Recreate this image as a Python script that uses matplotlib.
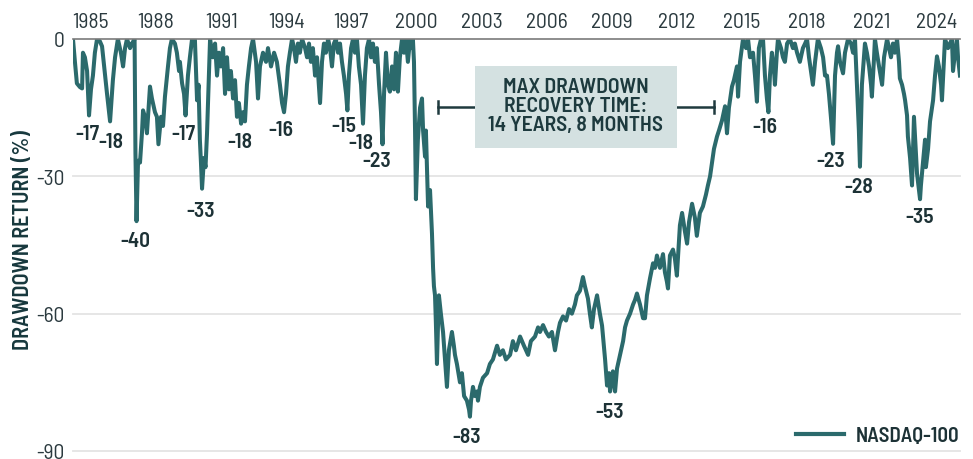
import matplotlib.pyplot as plt
from matplotlib.patches import Rectangle

plt.rcParams['font.family'] = ['Barlow Semi Condensed', 'DejaVu Sans']
plt.rcParams['axes.unicode_minus'] = False

# --- data (decimal year, drawdown %) ---
years = [
    1984.17, 1984.26, 1984.35, 1984.49, 1984.59, 1984.63, 1984.72, 1984.82, 1984.91, 1985.00,
    1985.09, 1985.18, 1985.28, 1985.41, 1985.51, 1985.65, 1985.74, 1985.88, 1986.01, 1986.11,
    1986.24, 1986.38, 1986.48, 1986.57, 1986.66, 1986.80, 1986.89, 1987.01, 1987.05, 1987.10,
    1987.17, 1987.26, 1987.35, 1987.40, 1987.49, 1987.58, 1987.67, 1987.72, 1987.81, 1987.95,
    1988.04, 1988.11, 1988.23, 1988.32, 1988.41, 1988.55, 1988.64, 1988.73, 1988.87, 1988.96,
    1989.06, 1989.10, 1989.20, 1989.29, 1989.36, 1989.43, 1989.47, 1989.56, 1989.66, 1989.79,
    1989.89, 1989.96, 1990.02, 1990.07, 1990.12, 1990.21, 1990.28, 1990.35, 1990.42, 1990.49,
    1990.62, 1990.72, 1990.81, 1990.90, 1990.99, 1991.09, 1991.18, 1991.27, 1991.36, 1991.45,
    1991.55, 1991.64, 1991.73, 1991.82, 1991.92, 1992.01, 1992.10, 1992.19, 1992.28, 1992.38,
    1992.47, 1992.61, 1992.70, 1992.79, 1992.93, 1993.07, 1993.16, 1993.30, 1993.44, 1993.57,
    1993.71, 1993.81, 1993.90, 1993.99, 1994.08, 1994.17, 1994.27, 1994.36, 1994.45, 1994.54,
    1994.63, 1994.73, 1994.87, 1994.96, 1995.05, 1995.14, 1995.23, 1995.33, 1995.42, 1995.56,
    1995.65, 1995.74, 1995.83, 1995.93, 1996.02, 1996.11, 1996.20, 1996.29, 1996.39, 1996.48,
    1996.57, 1996.66, 1996.76, 1996.82, 1996.89, 1996.99, 1997.08, 1997.17, 1997.26, 1997.35,
    1997.45, 1997.54, 1997.63, 1997.72, 1997.82, 1997.91, 1998.00, 1998.09, 1998.18, 1998.28,
    1998.37, 1998.44, 1998.51, 1998.60, 1998.69, 1998.78, 1998.88, 1998.97, 1999.06, 1999.15,
    1999.24, 1999.34, 1999.43, 1999.52, 1999.61, 1999.71, 1999.80, 1999.84, 1999.89, 1999.94,
    1999.98, 2000.07, 2000.17, 2000.26, 2000.31, 2000.40, 2000.44, 2000.54, 2000.63, 2000.72,
    2000.77, 2000.81, 2000.86, 2000.90, 2000.95, 2001.00, 2001.04, 2001.13, 2001.23, 2001.32,
    2001.41, 2001.50, 2001.64, 2001.73, 2001.78, 2001.87, 2002.01, 2002.10, 2002.20, 2002.33,
    2002.43, 2002.47, 2002.52, 2002.61, 2002.70, 2002.79, 2002.84, 2002.93, 2003.07, 2003.26,
    2003.39, 2003.53, 2003.72, 2003.85, 2003.99, 2004.13, 2004.32, 2004.45, 2004.59, 2004.78,
    2004.96, 2005.15, 2005.28, 2005.47, 2005.61, 2005.70, 2005.84, 2005.98, 2006.11, 2006.25,
    2006.39, 2006.53, 2006.62, 2006.76, 2006.90, 2007.04, 2007.17, 2007.31, 2007.40, 2007.54,
    2007.68, 2007.77, 2007.91, 2008.00, 2008.09, 2008.19, 2008.33, 2008.46, 2008.56, 2008.70,
    2008.79, 2008.88, 2008.93, 2009.02, 2009.06, 2009.16, 2009.25, 2009.39, 2009.53, 2009.62,
    2009.71, 2009.85, 2009.99, 2010.08, 2010.17, 2010.31, 2010.45, 2010.54, 2010.63, 2010.77,
    2010.91, 2011.00, 2011.09, 2011.23, 2011.37, 2011.46, 2011.55, 2011.60, 2011.69, 2011.83,
    2011.92, 2012.01, 2012.11, 2012.15, 2012.25, 2012.38, 2012.48, 2012.57, 2012.71, 2012.84,
    2012.93, 2013.07, 2013.21, 2013.35, 2013.44, 2013.54, 2013.63, 2013.72, 2013.86, 2013.95,
    2014.09, 2014.23, 2014.32, 2014.41, 2014.55, 2014.64, 2014.78, 2014.83, 2014.92, 2015.06,
    2015.20, 2015.29, 2015.38, 2015.52, 2015.61, 2015.70, 2015.79, 2015.89, 2015.98, 2016.07,
    2016.16, 2016.23, 2016.30, 2016.39, 2016.49, 2016.53, 2016.62, 2016.67, 2016.81, 2016.90,
    2016.99, 2017.09, 2017.22, 2017.36, 2017.45, 2017.55, 2017.68, 2017.82, 2017.92, 2018.01,
    2018.10, 2018.19, 2018.28, 2018.38, 2018.51, 2018.65, 2018.75, 2018.84, 2018.93, 2019.02,
    2019.11, 2019.21, 2019.30, 2019.39, 2019.44, 2019.53, 2019.67, 2019.76, 2019.90, 2020.04,
    2020.13, 2020.22, 2020.31, 2020.40, 2020.45, 2020.54, 2020.68, 2020.77, 2020.87, 2020.96,
    2021.00, 2021.10, 2021.14, 2021.23, 2021.33, 2021.47, 2021.56, 2021.70, 2021.79, 2021.88,
    2021.97, 2022.06, 2022.16, 2022.25, 2022.29, 2022.39, 2022.48, 2022.53, 2022.62, 2022.66,
    2022.76, 2022.85, 2022.94, 2023.03, 2023.08, 2023.17, 2023.22, 2023.26, 2023.36, 2023.45,
    2023.49, 2023.59, 2023.68, 2023.82, 2023.91, 2024.00, 2024.09, 2024.19, 2024.23, 2024.32,
    2024.37, 2024.51, 2024.60, 2024.69, 2024.74, 2024.83, 2024.92, 2024.97, 2025.06,
]
drawdown = [
    0, -5, -9.7, -10.5, -10.8, -3, -4, -7, -16.7, -11,
    -8, -3, 0, -0.5, -1.6, -8, -12, -18, -9, -4,
    0, -3, -6, -2, 0, -2, -1, 0, -25, -39.8,
    -26.6, -27, -20.6, -15.6, -17, -20.6, -14, -10.4, -13, -16,
    -17, -23, -17, -19, -12.6, -6, -2, 0, -1, -3,
    -7, -5, -9.7, -12, -16.7, -11, -8, -4, 0, 0,
    -13.4, -10, -22, -27, -32.7, -26, -28, -20.6, -10, 0,
    -4, -1, -8, -3, -6, -2, -12, -4, -11, -7,
    -13, -9, -17, -14, -18.5, -16, -18, -10, -6, -2,
    0, -5, -13, -6, -3, -5, -2, -6, -3, -5,
    -10, -14, -16, -12, -6, -3, 0, -2, -5, -1,
    -3, 0, -2, -4, -1, -5, -2, -8, -4, -14,
    -5, -1, -3, 0, -2, -6, -1, 0, -3, -1,
    -5, -8, -12, -15.6, -8, -2, 0, -3, 0, -6,
    -10, -18.5, -8, -2, 0, -4, -1, -5, -2, -10,
    -16, -23, -12, -3, -10, -11.5, -6, -11, -3, -11.5,
    -4, 0, -3, 0, -5, 0, -2, 0, -5, -20,
    -35, -22, -15, -13, -20, -25.7, -20, -36.6, -33, -42.5,
    -50, -54, -56, -62, -71, -62, -56, -60, -64, -70,
    -76, -68, -64, -67, -69, -71, -75, -73, -78, -79,
    -81, -82.5, -79, -76, -78, -77, -79, -76, -74, -73,
    -71, -70, -67, -69, -68, -70, -69, -66, -68, -65,
    -67, -69, -66, -65, -63, -64, -62.5, -64, -65, -64,
    -68, -64, -62, -60.6, -61.5, -59, -60, -58, -56, -55,
    -52, -54, -56.7, -60, -63, -59, -56, -60, -62.6, -70,
    -75.7, -73, -77, -74, -72.6, -77, -72, -69, -66, -63,
    -61.5, -60, -58, -57, -55.6, -58, -61, -61, -56, -52.3,
    -49, -50, -47.3, -50, -47, -51, -53, -54.5, -47.3, -46,
    -48, -51.7, -44, -40.7, -38, -42, -44.7, -40, -36, -39,
    -43, -38, -36.6, -34, -32, -30, -27, -24, -21.3, -20,
    -17.8, -14.7, -20.6, -15, -10.4, -9, -6, -12.6, -5, 0,
    -2, 0, -4, -3, -8, -13.7, -2, 0, 0, -8,
    -13, -16, -8, -3, -7, -10, -3, 0, -2, -4,
    -5, -1, 0, -2, -1, -3, -5, -2, -1, 0,
    -4, -7, -10, -5, 0, -2, -4, -8, -8, -12,
    -17, -22.9, -8, -3, -1.6, -5, -7.5, -3, 0, -1,
    -3, 0, -10, -20, -27.9, -10, -1, -3, -6, -10,
    -12.6, -4, 0, -3, -6, -10, -4, 0, -2, -4,
    -1, -3, 0, -5, -8.6, -10, -12, -13.4, -16.7, -21.3,
    -26, -32, -17, -25, -29.4, -33, -35, -32, -26.6, -22,
    -28, -24, -18, -13.4, -8, -3.8, -6, -10, -13.4, -5,
    0, -2, -1, 0, -7, -3, 0, -4, -8,
]

# labelled troughs: (x, y, text)
trough_x = [1984.82, 1985.92, 1987.03, 1989.24, 1990.07, 1991.87, 1993.76, 1996.66,
            1997.45, 1998.18, 2002.33, 2008.93, 2016.07, 2019.11, 2020.40, 2023.22]
trough_y = [-20.6, -22.4, -44.0, -20.6, -37.5, -22.4, -19.8, -18.9,
            -22.6, -26.5, -86.8, -81.4, -19.1, -26.5, -32.2, -38.8]
trough_labels = ['-17', '-18', '-40', '-17', '-33', '-18', '-16', '-15',
                 '-18', '-23', '-83', '-53', '-16', '-23', '-28', '-35']

year_ticks = list(range(1985, 2025, 3))
y_ticks = [0, -30, -60, -90]

# recovery bracket and text box
bracket_start, bracket_end, bracket_level = 2001.0, 2013.72, -14.9
box_x0, box_x1, box_y0, box_y1 = 2002.70, 2012.01, -23.9, -5.8

line_color = '#2b6a6c'
text_dark = '#1d3236'

fig = plt.figure(figsize=(9.73, 4.6), dpi=100)
ax = fig.add_axes([0.075, 0.0174, 0.9116, 0.8957])

ax.plot(years, drawdown, color=line_color, lw=2.9, solid_joinstyle='round',
        label='NASDAQ-100', zorder=3)

ax.set_xlim(1984.17, 2025.06)
ax.set_ylim(-90, 0)

ax.xaxis.tick_top()
ax.set_xticks(year_ticks)
ax.set_xticklabels([str(y) for y in year_ticks])
ax.set_yticks(y_ticks)
ax.tick_params(axis='both', length=0, labelsize=15.5, colors='#2b3a3f')
ax.tick_params(axis='x', pad=6)
ax.tick_params(axis='y', pad=6)

for s in ['left', 'right', 'bottom']:
    ax.spines[s].set_visible(False)
ax.spines['top'].set_color('#7a7a7a')
ax.spines['top'].set_linewidth(1.2)
ax.spines['top'].set_zorder(4)

for v in y_ticks[1:]:
    ax.axhline(v, color='#e4e4e4', lw=1.3, zorder=1, clip_on=False)

ax.set_ylabel('DRAWDOWN RETURN (%)', fontsize=16, fontweight='semibold', color='#17383d')
ax.yaxis.set_label_coords(-0.045, 0.515)

for x, y, t in zip(trough_x, trough_y, trough_labels):
    ax.text(x, y, t, ha='center', va='center', fontsize=15.5, fontweight='semibold',
            color=text_dark, zorder=5)

# bracket behind the box
ax.plot([bracket_start, bracket_end], [bracket_level, bracket_level], color='#1f3a3e', lw=1.8, zorder=2)
for bx in [bracket_start, bracket_end]:
    ax.plot([bx, bx], [bracket_level - 1.3, bracket_level + 1.3], color='#1f3a3e', lw=1.8, zorder=2)

ax.add_patch(Rectangle((box_x0, box_y0), box_x1 - box_x0, box_y1 - box_y0,
                       facecolor='#d4e1e1', edgecolor='none', zorder=4))
ax.text((box_x0 + box_x1) / 2, (box_y0 + box_y1) / 2 + 0.3,
        'MAX DRAWDOWN\nRECOVERY TIME:\n14 YEARS, 8 MONTHS',
        ha='center', va='center', fontsize=15.5, fontweight='semibold', color='#1d3a3e',
        linespacing=1.0, zorder=5)

leg = ax.legend(loc='center right', bbox_to_anchor=(959 / 973, 23 / 460),
                bbox_transform=fig.transFigure, frameon=False, borderpad=0,
                borderaxespad=0, handlelength=2.3, handletextpad=0.55,
                prop={'size': 15, 'weight': 'semibold'})
leg.get_lines()[0].set_linewidth(3)
for t in leg.get_texts():
    t.set_color(text_dark)

fig.savefig('out.png', dpi=100)
